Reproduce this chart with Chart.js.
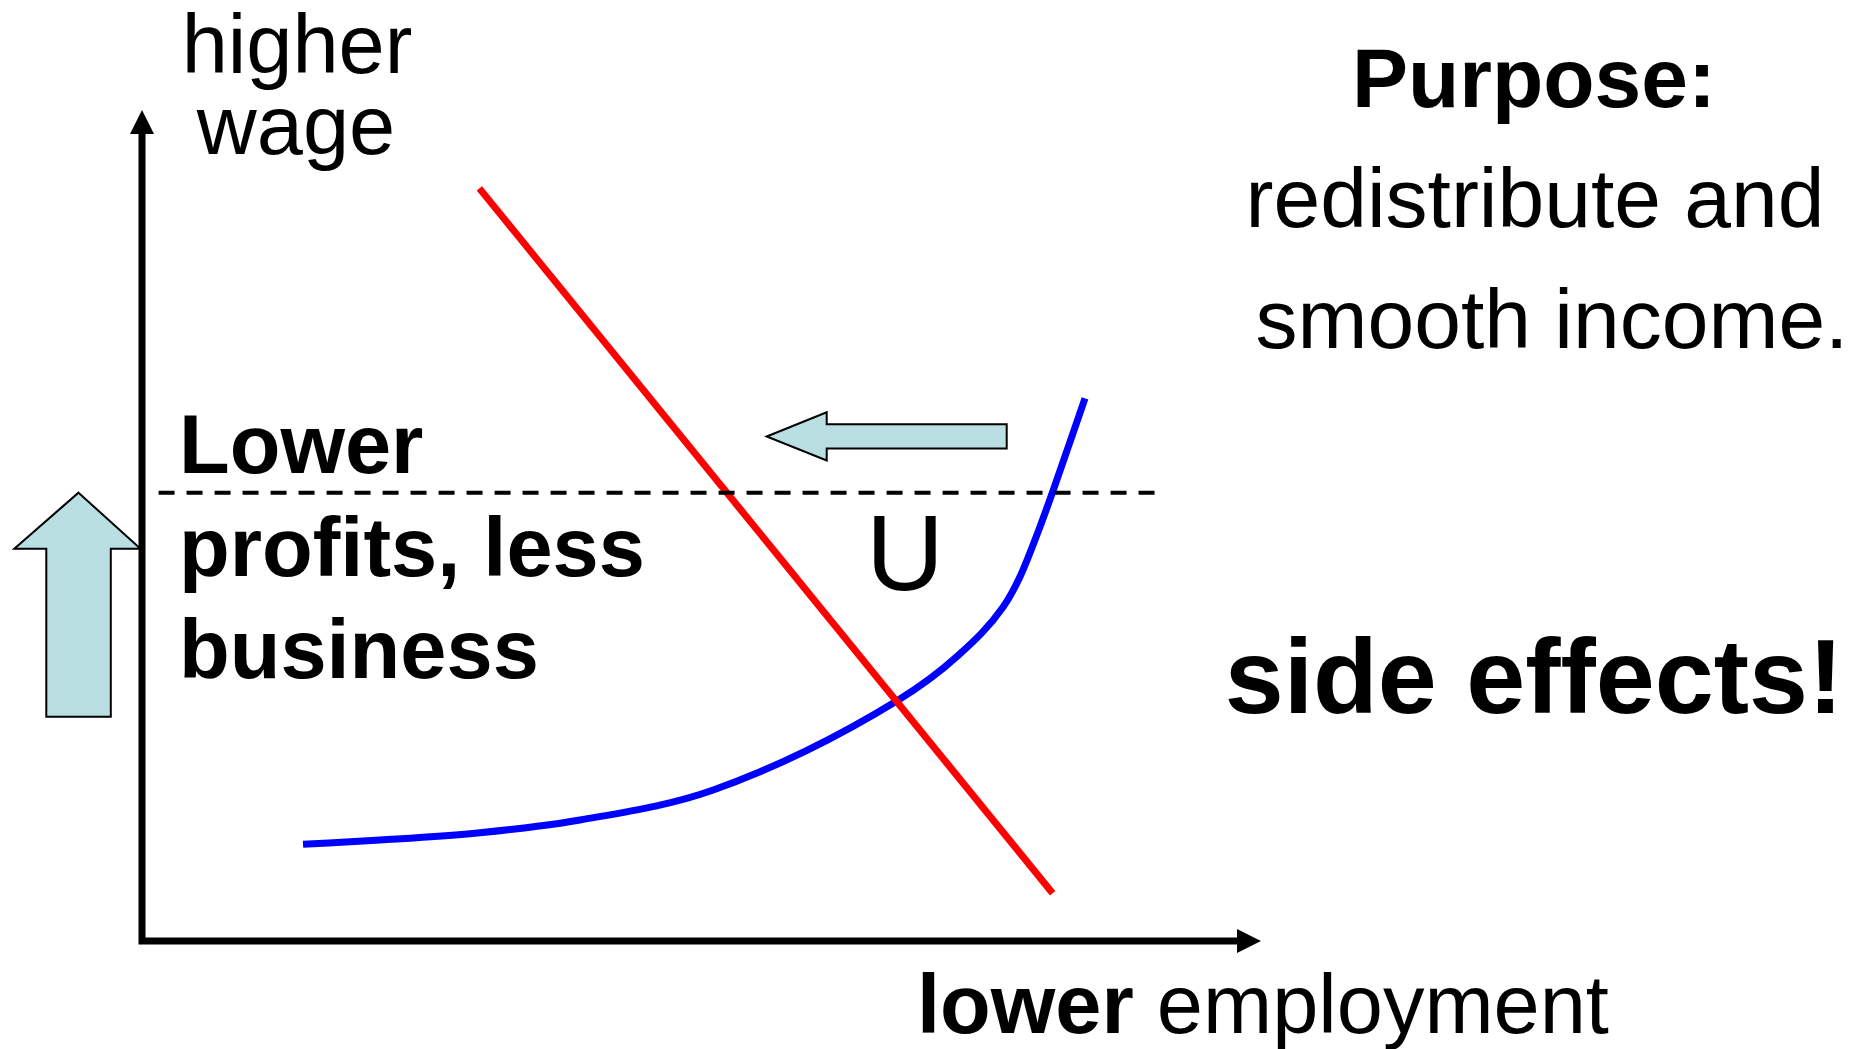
<!DOCTYPE html>
<html>
<head>
<meta charset="utf-8">
<title>minimum wage</title>
<script src="https://cdn.jsdelivr.net/npm/chart.js@4/dist/chart.umd.min.js"></script>
<style>
  html, body { margin: 0; padding: 0; background: #fff; }
  canvas { display: block; }
</style>
</head>
<body>
<canvas id="chart" width="1870" height="1049"></canvas>
<script>
// values, in axis units (0..10 on both axes)
const demandX = [3.015, 8.138]
const demandY = [9.057, 0.574]
const supplyX = [1.439, 2.127, 3.021, 3.914, 5.105, 6.759, 7.281, 7.697, 7.846, 8.025, 8.144, 8.427]
const supplyY = [1.164, 1.215, 1.303, 1.456, 1.817, 2.900, 3.421, 4.023, 4.384, 4.986, 5.427, 6.531]
const minWage = 5.395
const minWageX = [0.148, 9.06]

const yAxisLabel = ['higher', 'wage']
const leftNote = ['Lower', 'profits, less', 'business']
const rightNote = ['Purpose:', 'redistribute and', 'smooth income.']

const FONT = "'Liberation Sans', Arial, sans-serif"
const ARROW_FILL = '#badfe3'

function pts(xs, ys) {
  return xs.map((x, i) => ({ x: x, y: ys[i] }))
}

function blockArrow(ctx, p) {
  ctx.beginPath()
  p.forEach((q, i) => i ? ctx.lineTo(q[0], q[1]) : ctx.moveTo(q[0], q[1]))
  ctx.closePath()
  ctx.fillStyle = ARROW_FILL
  ctx.fill()
  ctx.lineWidth = 2
  ctx.strokeStyle = '#000'
  ctx.stroke()
}

const decorations = {
  id: 'decorations',
  beforeDatasetsDraw(chart) {
    const ctx = chart.ctx
    const xs = chart.scales.x, ys = chart.scales.y
    const x0 = xs.getPixelForValue(0), y0 = ys.getPixelForValue(0)
    const x1 = xs.getPixelForValue(10), y1 = ys.getPixelForValue(10)
    ctx.save()
    // axes with arrow heads
    ctx.strokeStyle = '#000'
    ctx.fillStyle = '#000'
    ctx.lineWidth = 7
    ctx.beginPath()
    ctx.moveTo(x0, y0 + 3.5)
    ctx.lineTo(x0, y1 + 20)
    ctx.moveTo(x0 - 3.5, y0)
    ctx.lineTo(x1 - 20, y0)
    ctx.stroke()
    ctx.beginPath()
    ctx.moveTo(x0, y1)
    ctx.lineTo(x0 - 12, y1 + 24)
    ctx.lineTo(x0 + 12, y1 + 24)
    ctx.closePath()
    ctx.moveTo(x1, y0)
    ctx.lineTo(x1 - 24, y0 - 12)
    ctx.lineTo(x1 - 24, y0 + 12)
    ctx.closePath()
    ctx.fill()

    // up arrow, its tip on the minimum wage line
    const ty = ys.getPixelForValue(minWage)
    blockArrow(ctx, [[78.5, ty], [140.5, ty + 56], [110.8, ty + 56], [110.8, ty + 224],
      [46.3, ty + 224], [46.3, ty + 56], [14.3, ty + 56]])
    // left arrow
    blockArrow(ctx, [[766.7, 436.5], [826.7, 412.3], [826.7, 424.3], [1006.7, 424.3],
      [1006.7, 448.5], [826.7, 448.5], [826.7, 460.5]])
    ctx.restore()
  },
  afterDraw(chart) {
    const ctx = chart.ctx
    ctx.save()
    ctx.fillStyle = '#000'
    ctx.textBaseline = 'alphabetic'
    ctx.textAlign = 'center'
    ctx.font = '83px ' + FONT
    ctx.fillText(yAxisLabel[0], 297, 73)
    ctx.fillText(yAxisLabel[1], 296, 154)

    ctx.textAlign = 'left'
    ctx.font = 'bold 83px ' + FONT
    ctx.fillText(leftNote[0], 179, 473)
    ctx.fillText(leftNote[1], 179, 576)
    ctx.fillText(leftNote[2], 179, 678)

    ctx.textAlign = 'center'
    ctx.font = '108px ' + FONT
    ctx.fillText('U', 905, 590)

    ctx.font = 'bold 84px ' + FONT
    ctx.fillText(rightNote[0], 1534, 107)
    ctx.font = '84px ' + FONT
    ctx.fillText(rightNote[1], 1535, 227)
    ctx.fillText(rightNote[2], 1552, 348)
    ctx.font = 'bold 106px ' + FONT
    ctx.fillText('side effects!', 1534, 713)

    // x axis label, bold + regular
    ctx.textAlign = 'left'
    ctx.font = 'bold 83px ' + FONT
    const w = ctx.measureText('lower ').width
    ctx.fillText('lower', 917, 1033)
    ctx.font = '83px ' + FONT
    ctx.fillText('employment', 917 + w, 1033)
    ctx.restore()
  }
}

new Chart(document.getElementById('chart'), {
  type: 'scatter',
  data: {
    datasets: [
      {
        label: 'minimum wage',
        data: pts(minWageX, [minWage, minWage]),
        showLine: true,
        borderColor: '#000',
        borderWidth: 4,
        borderDash: [16, 12],
        pointRadius: 0
      },
      {
        label: 'demand',
        data: pts(demandX, demandY),
        showLine: true,
        borderColor: '#ff0000',
        borderWidth: 7,
        pointRadius: 0
      },
      {
        label: 'supply',
        data: pts(supplyX, supplyY),
        showLine: true,
        borderColor: '#0000ff',
        borderWidth: 7,
        cubicInterpolationMode: 'monotone',
        pointRadius: 0
      }
    ]
  },
  options: {
    responsive: false,
    animation: false,
    devicePixelRatio: 1,
    layout: { padding: { left: 142, right: 609, top: 110, bottom: 108 } },
    plugins: { legend: { display: false }, tooltip: { enabled: false } },
    scales: {
      x: { type: 'linear', min: 0, max: 10, display: false },
      y: { type: 'linear', min: 0, max: 10, display: false }
    }
  },
  plugins: [decorations]
})
</script>
</body>
</html>
